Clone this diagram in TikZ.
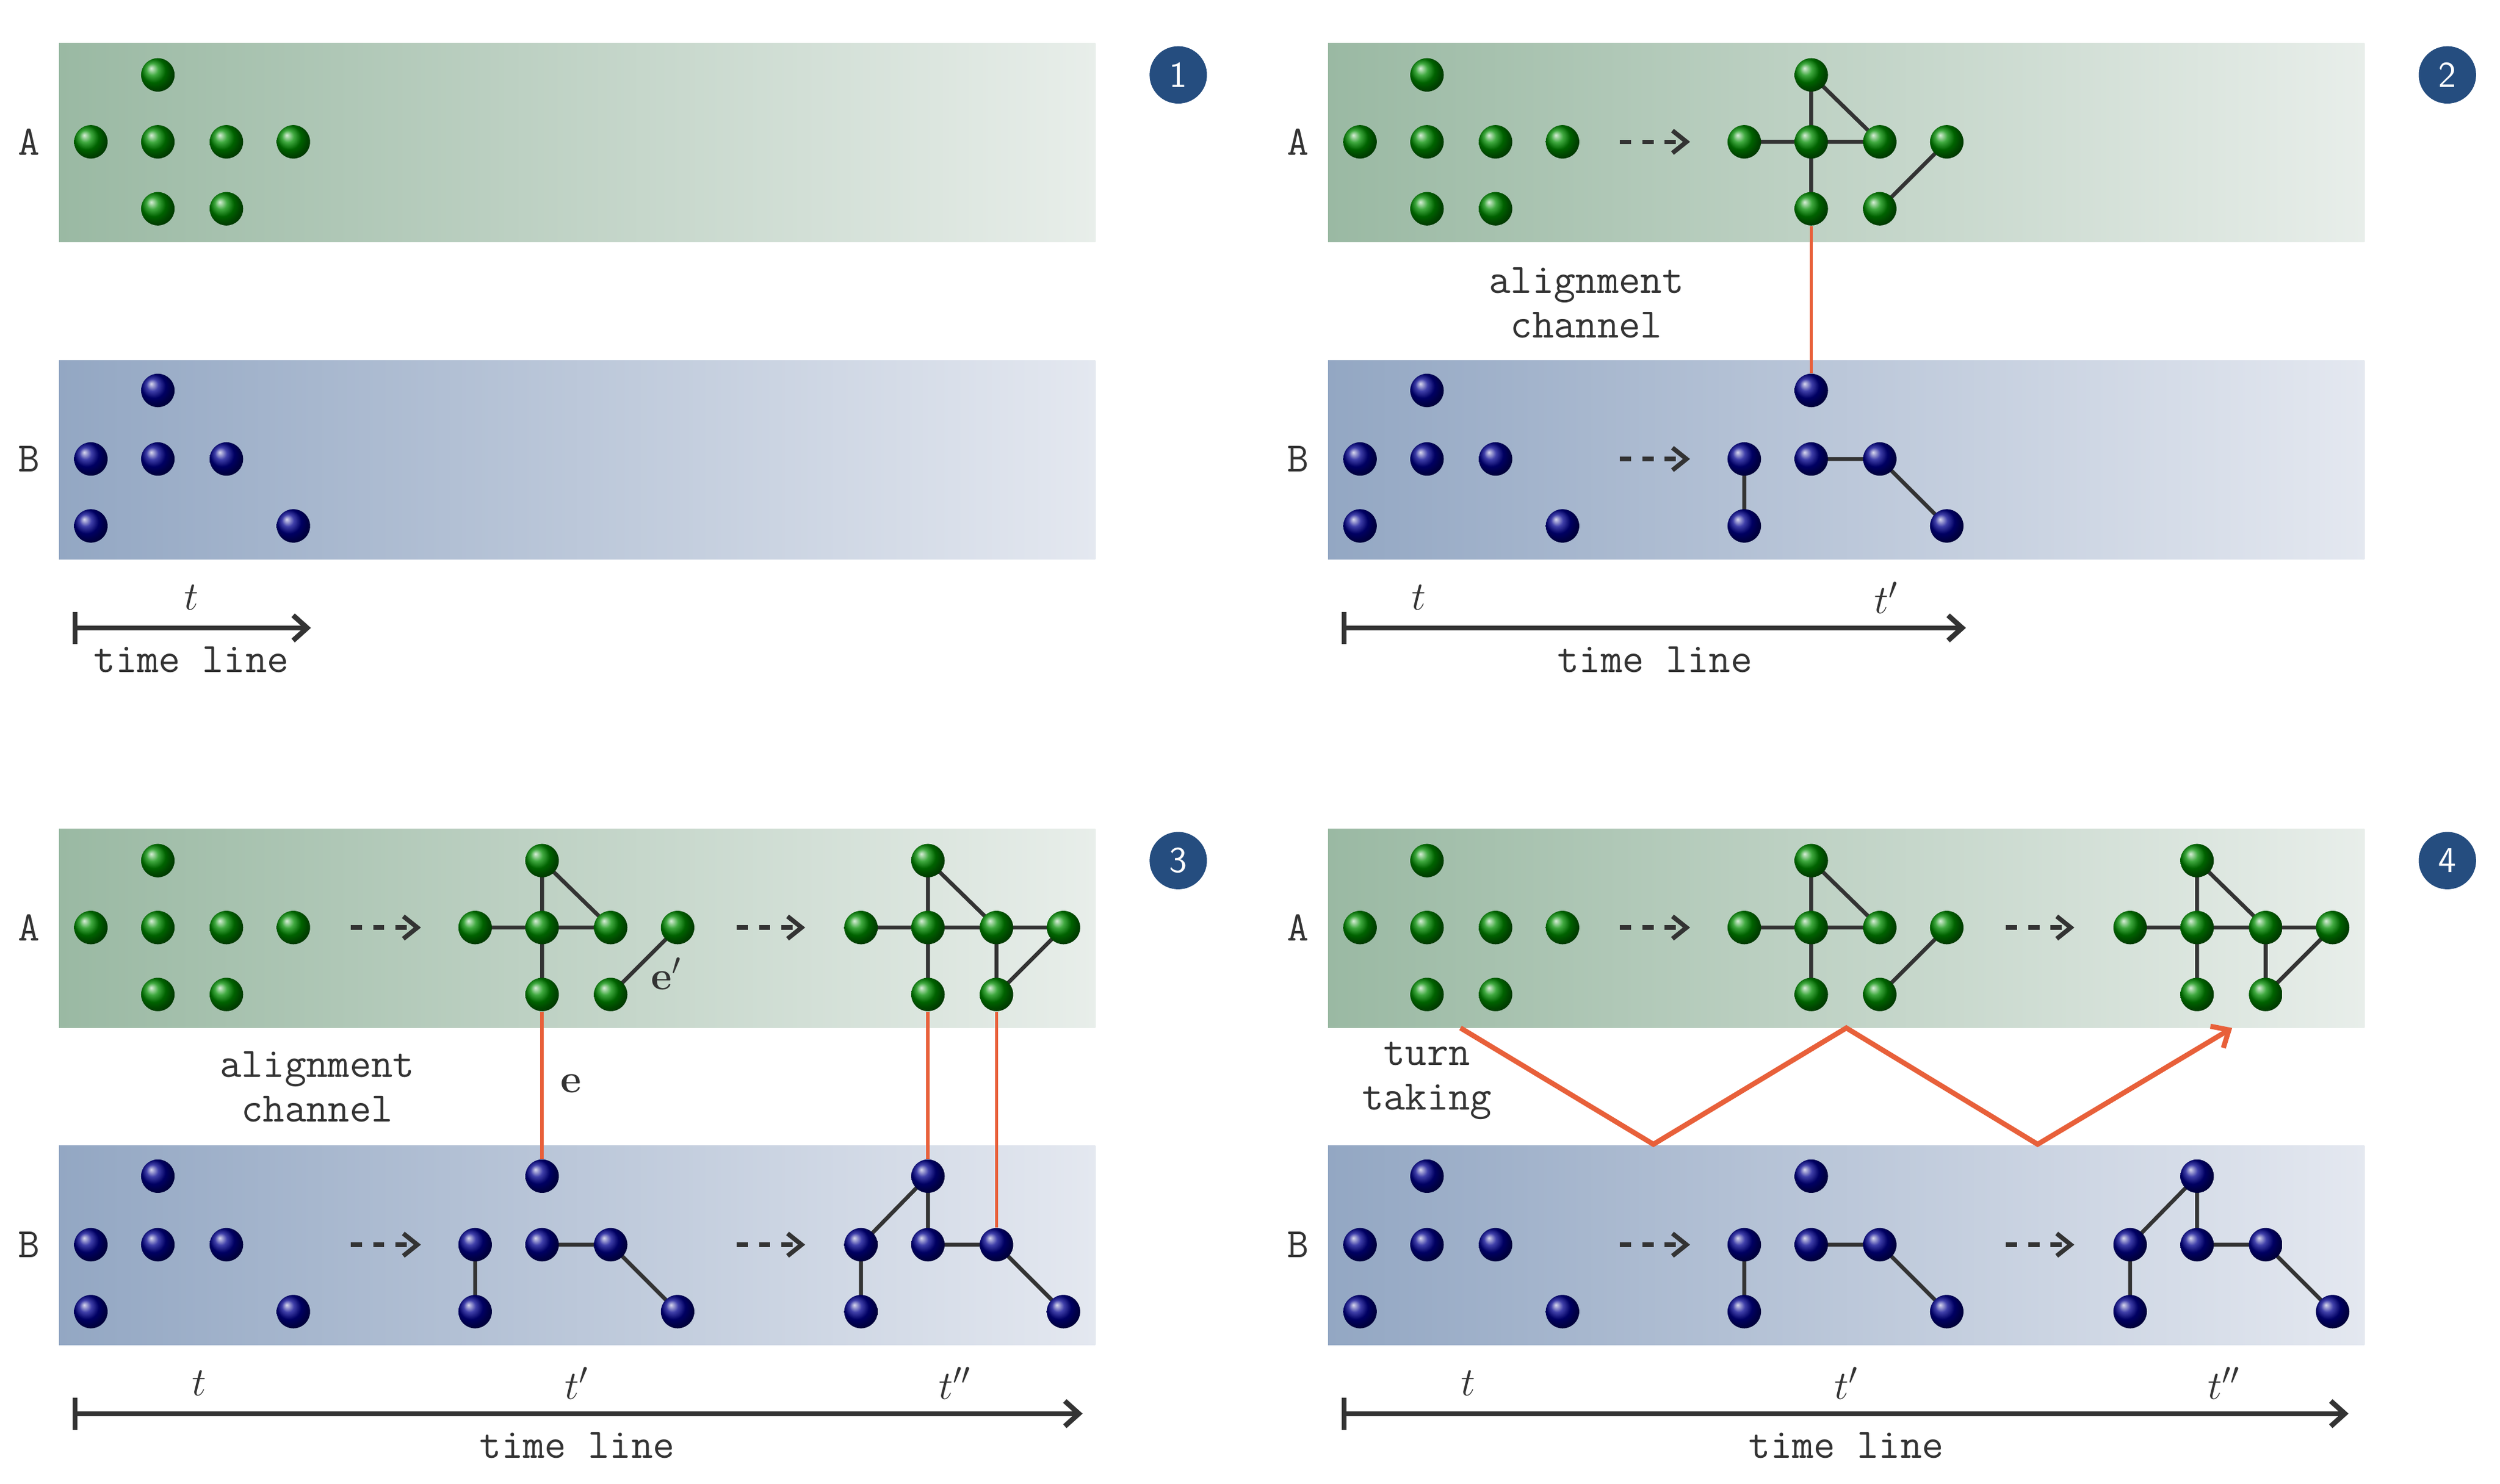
\documentclass[tikz,border=0pt]{standalone}
\usetikzlibrary{arrows.meta,shadings}
\pgfdeclarelayer{back}\pgfdeclarelayer{mid}\pgfsetlayers{back,mid,main}
\definecolor{bandGL}{HTML}{9AB9A3}\definecolor{bandGR}{HTML}{E8EEEA}
\definecolor{bandBL}{HTML}{93A7C3}\definecolor{bandBR}{HTML}{E4E8F0}
\definecolor{numblue}{HTML}{254D7F}\definecolor{redl}{HTML}{E8603A}
\definecolor{dk}{HTML}{333333}
\tikzset{
 gball/.style={circle,inner sep=0pt,minimum size=0.42cm,shading=ball,ball color=green!55!black},
 bball/.style={circle,inner sep=0pt,minimum size=0.42cm,shading=ball,ball color=blue!55!black},
 ed/.style={draw=dk,line width=1.4pt},
 redln/.style={draw=redl,line width=1.2pt},
 dsh/.style={draw=dk,line width=1.6pt,dash pattern=on 4pt off 4pt,-{Straight Barb[length=5pt,width=8pt]}},
 tl/.style={draw=dk,line width=1.8pt,-{Straight Barb[length=5pt,width=9pt]}},
 txt/.style={font=\fontsize{15}{18}\selectfont\ttfamily,text=dk,align=center},
 mtxt/.style={font=\fontsize{15}{18}\selectfont,text=dk},
 num/.style={circle,fill=numblue,minimum size=0.72cm,inner sep=0pt,text=white,font=\sffamily\fontsize{13}{14}\selectfont},
}
\newcommand\bl[4]{\node[#2] (#1) at ({#3},{#4}) {};}
\newcommand\initial[3]{%
 \bl{#1A1a}{gball}{#2+99}{#3+47}\bl{#1A1b}{gball}{#2+57}{#3+89}\bl{#1A1c}{gball}{#2+99}{#3+89}
 \bl{#1A1d}{gball}{#2+142}{#3+89}\bl{#1A1e}{gball}{#2+184}{#3+89}\bl{#1A1f}{gball}{#2+99}{#3+131}
 \bl{#1A1g}{gball}{#2+142}{#3+131}
 \bl{#1B1a}{bball}{#2+99}{#3+245}\bl{#1B1b}{bball}{#2+57}{#3+288}\bl{#1B1c}{bball}{#2+99}{#3+288}
 \bl{#1B1d}{bball}{#2+142}{#3+288}\bl{#1B1e}{bball}{#2+57}{#3+330}\bl{#1B1f}{bball}{#2+184}{#3+330}}
\newcommand\second[3]{%
 \bl{#1A2a}{gball}{#2+340}{#3+47}\bl{#1A2b}{gball}{#2+298}{#3+89}\bl{#1A2c}{gball}{#2+340}{#3+89}
 \bl{#1A2d}{gball}{#2+383}{#3+89}\bl{#1A2e}{gball}{#2+425}{#3+89}\bl{#1A2f}{gball}{#2+340}{#3+131}
 \bl{#1A2g}{gball}{#2+383}{#3+131}
 \bl{#1B2a}{bball}{#2+340}{#3+245}\bl{#1B2b}{bball}{#2+298}{#3+288}\bl{#1B2c}{bball}{#2+340}{#3+288}
 \bl{#1B2d}{bball}{#2+383}{#3+288}\bl{#1B2e}{bball}{#2+298}{#3+330}\bl{#1B2f}{bball}{#2+425}{#3+330}
 \begin{pgfonlayer}{mid}
 \draw[ed] (#1A2b.center)--(#1A2d.center) (#1A2a.center)--(#1A2f.center) (#1A2a.center)--(#1A2d.center) (#1A2e.center)--(#1A2g.center)
 (#1B2b.center)--(#1B2e.center) (#1B2c.center)--(#1B2d.center) (#1B2d.center)--(#1B2f.center);
 \end{pgfonlayer}
 \draw[dsh] ({#2+220},{#3+89})--({#2+264},{#3+89});
 \draw[dsh] ({#2+220},{#3+288})--({#2+264},{#3+288});}
\newcommand\third[3]{%
 \bl{#1A3a}{gball}{#2+582}{#3+47}\bl{#1A3b}{gball}{#2+540}{#3+89}\bl{#1A3c}{gball}{#2+582}{#3+89}
 \bl{#1A3d}{gball}{#2+625}{#3+89}\bl{#1A3e}{gball}{#2+667}{#3+89}\bl{#1A3f}{gball}{#2+582}{#3+131}
 \bl{#1A3g}{gball}{#2+625}{#3+131}
 \bl{#1B3a}{bball}{#2+582}{#3+245}\bl{#1B3b}{bball}{#2+540}{#3+288}\bl{#1B3c}{bball}{#2+582}{#3+288}
 \bl{#1B3d}{bball}{#2+625}{#3+288}\bl{#1B3e}{bball}{#2+540}{#3+330}\bl{#1B3f}{bball}{#2+667}{#3+330}
 \begin{pgfonlayer}{mid}
 \draw[ed] (#1A3b.center)--(#1A3e.center) (#1A3a.center)--(#1A3f.center) (#1A3a.center)--(#1A3d.center)
 (#1A3d.center)--(#1A3g.center) (#1A3e.center)--(#1A3g.center)
 (#1B3b.center)--(#1B3e.center) (#1B3b.center)--(#1B3a.center) (#1B3a.center)--(#1B3c.center)
 (#1B3c.center)--(#1B3d.center) (#1B3d.center)--(#1B3f.center);
 \end{pgfonlayer}
 \draw[dsh] ({#2+462},{#3+89})--({#2+505},{#3+89});
 \draw[dsh] ({#2+462},{#3+288})--({#2+505},{#3+288});}
\newcommand\panelframe[4]{% prefix ox oy number
 \begin{pgfonlayer}{back}
 \shade[left color=bandGL,right color=bandGR] ({#2+37},{#3+27}) rectangle ({#2+687},{#3+152});
 \shade[left color=bandBL,right color=bandBR] ({#2+37},{#3+226}) rectangle ({#2+687},{#3+351});
 \end{pgfonlayer}
 \node[txt] (#1la) at ({#2+18},{#3+89}) {A};
 \node[txt] (#1lb) at ({#2+18},{#3+288}) {B};
 \node[num] (#1n) at ({#2+739},{#3+47}) {#4};}
\begin{document}
\begin{tikzpicture}[x=0.02cm,y=-0.02cm]
\useasboundingbox (0,0) rectangle (1568,930.8);
% panel 1
\panelframe{p1}{0}{0}{1}\initial{p1}{0}{0}
\coordinate (p1s) at (47,394);\coordinate (p1e) at (195,394);
\draw[tl] (p1s)--(p1e); \draw[dk,line width=1.8pt] (47,384)--(47,404);
\node[mtxt] (p1t) at (120,375) {$t$};
\node[txt] (p1tl) at (120,414) {time line};
% panel 2
\panelframe{p2}{796}{0}{2}\initial{p2}{796}{0}\second{p2}{796}{0}
\begin{pgfonlayer}{mid}\draw[redln] (p2A2f)--(p2B2a);\end{pgfonlayer}
\node[txt] (p2al) at (995,190) {alignment\\[-2pt]channel};
\coordinate (p2s) at (843,394);\coordinate (p2e) at (1233,394);
\draw[tl] (p2s)--(p2e); \draw[dk,line width=1.8pt] (843,384)--(843,404);
\node[mtxt] (p2t) at (890,375) {$t$};\node[mtxt] (p2t1) at (1183,375) {$t'$};
\node[txt] (p2tl) at (1038,414) {time line};
% panel 3
\panelframe{p3}{0}{493}{3}\initial{p3}{0}{493}\second{p3}{0}{493}\third{p3}{0}{493}
\begin{pgfonlayer}{mid}\draw[redln] (p3A2f)--(p3B2a) (p3A3f)--(p3B3a) (p3A3g)--(p3B3d);\end{pgfonlayer}
\node[txt] (p3al) at (199,682) {alignment\\[-2pt]channel};
\node[mtxt] (p3e) at (358,680) {$\mathbf{e}$};
\node[mtxt] (p3e1) at (418,611) {$\mathbf{e}'$};
\coordinate (p3s) at (47,887);\coordinate (p3end) at (679,887);
\draw[tl] (p3s)--(p3end); \draw[dk,line width=1.8pt] (47,877)--(47,897);
\node[mtxt] (p3t) at (125,868) {$t$};\node[mtxt] (p3t1) at (362,868) {$t'$};\node[mtxt] (p3t2) at (599,868) {$t''$};
\node[txt] (p3tl) at (362,907) {time line};
% panel 4
\panelframe{p4}{796}{493}{4}\initial{p4}{796}{493}\second{p4}{796}{493}\third{p4}{796}{493}
\node[txt] (p4tt) at (895,678) {turn\\[-2pt]taking};
\coordinate (z0) at (916,645);\coordinate (z1) at (1037,718);\coordinate (z2) at (1158,645);
\coordinate (z3) at (1278,718);\coordinate (z4) at (1400,645);
\draw[redl,line width=1.8pt,-{Straight Barb[length=5pt,width=9pt]}] (z0)--(z1)--(z2)--(z3)--(z4);
\coordinate (p4s) at (843,887);\coordinate (p4e) at (1473,887);
\draw[tl] (p4s)--(p4e); \draw[dk,line width=1.8pt] (843,877)--(843,897);
\node[mtxt] (p4t) at (921,868) {$t$};\node[mtxt] (p4t1) at (1158,868) {$t'$};\node[mtxt] (p4t2) at (1395,868) {$t''$};
\node[txt] (p4tl) at (1158,907) {time line};
\end{tikzpicture}
\end{document}
